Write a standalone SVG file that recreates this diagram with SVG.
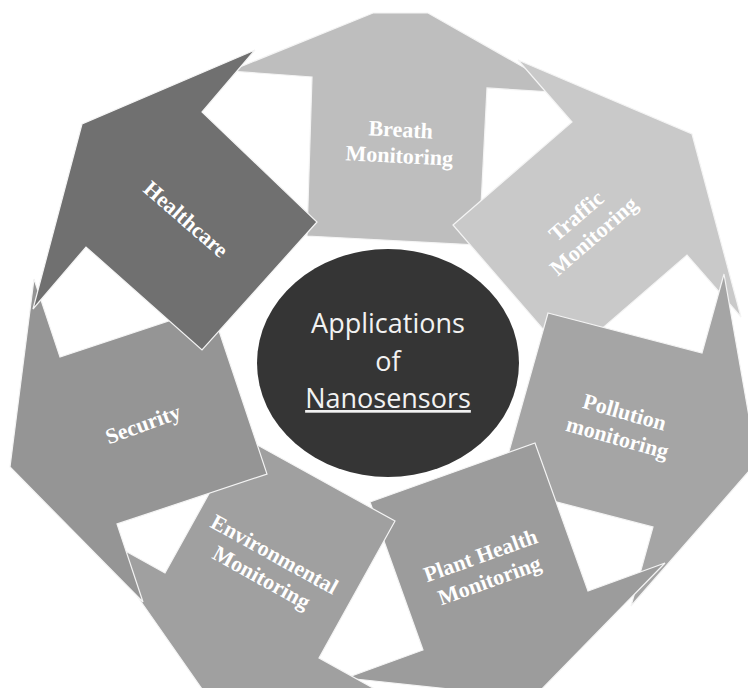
<svg xmlns="http://www.w3.org/2000/svg" width="748" height="688" viewBox="0 0 748 688">
<style>
.arrow{stroke:#f4f4f4;stroke-width:1.2;stroke-linejoin:miter}
.lbl{font-family:"Liberation Serif","Times New Roman",serif;font-weight:bold;font-size:22px;fill:#ffffff;text-anchor:middle}
.ctr{font-family:"Open Sans","Liberation Sans",sans-serif;font-size:27px;fill:#f2f2f2;text-anchor:middle}
</style>
<rect width="748" height="688" fill="#ffffff"/>
<g id="breath">
<polygon class="arrow" fill="#bebebe" points="307,236 312,77 230,71 373,13 428,13 569,93 487,88 479,245"/>
<g transform="translate(400,142.5) rotate(3)"><text class="lbl" y="-5.5">Breath</text><text class="lbl" y="20.5">Monitoring</text></g>
</g>
<g id="traffic">
<polygon class="arrow" fill="#c9c9c9" points="453,225 572,122 518,60 692,134 741,317 687,255 568,358"/>
<g transform="translate(585,226) rotate(-40.8)"><text class="lbl" y="-6">Traffic</text><text class="lbl" y="20.5">Monitoring</text></g>
</g>
<g id="pollution">
<polygon class="arrow" fill="#a5a5a5" points="548,313 702,353 724,274 757,462 631,606 653,527 499,487"/>
<g transform="translate(621,425) rotate(15.8)"><text class="lbl" y="-6">Pollution</text><text class="lbl" y="20.5">monitoring</text></g>
</g>
<g id="plant">
<polygon class="arrow" fill="#9c9c9c" points="370,502 535,443 588,591 665,563 533,698 346,678 423,650"/>
<g transform="translate(485,568) rotate(-19.7)"><text class="lbl" y="-6">Plant Health</text><text class="lbl" y="20.5">Monitoring</text></g>
</g>
<g id="environmental">
<polygon class="arrow" fill="#a0a0a0" points="241,436 395,521 319,658 391,698 202,689 93,533 165,573"/>
<g transform="translate(268,566) rotate(29)"><text class="lbl" y="-6">Environmental</text><text class="lbl" y="20.5">Monitoring</text></g>
</g>
<g id="security">
<polygon class="arrow" fill="#959595" points="211,307 267,474 117,524 143,602 10,467 34,279 60,357"/>
<g transform="translate(143,424) rotate(-20)"><text class="lbl" y="7.5">Security</text></g>
</g>
<g id="healthcare">
<polygon class="arrow" fill="#707070" points="317,222 202,350 86,247 33,309 82,124 255,50 202,112"/>
<g transform="translate(186,219) rotate(41)"><text class="lbl" y="7.5">Healthcare</text></g>
</g>
<g id="center">
<ellipse cx="388" cy="363" rx="131" ry="114" fill="#353535"/>
<text class="ctr" x="388" y="333">Applications</text>
<text class="ctr" x="388" y="371">of</text>
<text class="ctr" x="388" y="408" text-decoration="underline">Nanosensors</text>
</g>
</svg>
